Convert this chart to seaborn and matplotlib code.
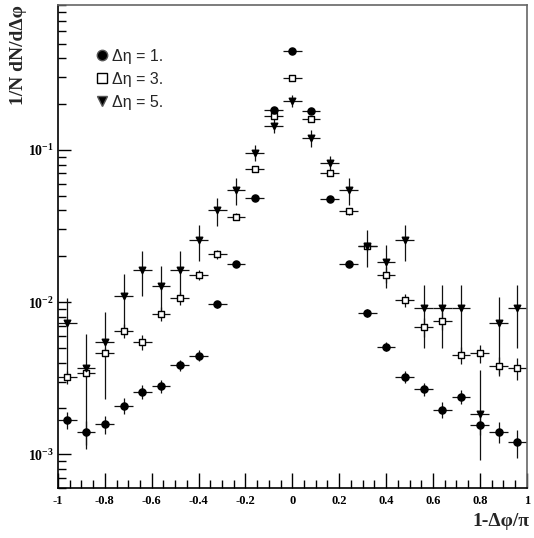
import matplotlib
matplotlib.use('Agg')
import matplotlib.pyplot as plt
from matplotlib.lines import Line2D
from matplotlib.ticker import FixedLocator, MultipleLocator, LogLocator, FuncFormatter, NullFormatter
import seaborn as sns
import pandas as pd
import math

# bin centres in 1-dphi/pi
x_bins = [-0.96, -0.88, -0.80, -0.72, -0.64, -0.56, -0.48, -0.40, -0.32, -0.24, -0.16, -0.08, 0.0,
          0.08, 0.16, 0.24, 0.32, 0.40, 0.48, 0.56, 0.64, 0.72, 0.80, 0.88, 0.96]
x_halfwidth = 0.04

# delta eta = 1 (filled circles)
eta1_y = [1.68e-3, 1.40e-3, 1.57e-3, 2.08e-3, 2.57e-3, 2.81e-3, 3.85e-3, 4.45e-3, 9.7e-3, 0.0179, 0.0482,
          0.182, 0.449, 0.181, 0.0477, 0.0179, 8.5e-3, 5.1e-3, 3.24e-3, 2.69e-3, 1.96e-3, 2.39e-3,
          1.55e-3, 1.41e-3, 1.20e-3]
eta1_err = [2.2e-4, 2.5e-4, 2.2e-4, 2.5e-4, 2.8e-4, 2.8e-4, 3.2e-4, 3.7e-4, 5e-4, 7e-4, 1.2e-3,
            3e-3, 5e-3, 3e-3, 1.2e-3, 7e-4, 5e-4, 3.5e-4, 3e-4, 2.7e-4, 2.3e-4, 2.6e-4,
            2.2e-4, 2.2e-4, 2.5e-4]

# delta eta = 3 (open squares)
eta3_y = [3.20e-3, 3.44e-3, 4.66e-3, 6.5e-3, 5.47e-3, 8.4e-3, 0.0106, 0.0151, 0.0207, 0.0365, 0.0753,
          0.166, 0.299, 0.159, 0.0703, 0.0394, 0.0233, 0.0151, 0.0103, 6.87e-3, 7.56e-3, 4.5e-3,
          4.6e-3, 3.83e-3, 3.68e-3]
eta3_err = [3e-4, 2.5e-4, 3e-4, 7e-4, 6.5e-4, 9e-4, 1e-3, 1.2e-3, 1.4e-3, 1.8e-3, 2.5e-3,
            5e-3, 7e-3, 5e-3, 2.5e-3, 1.8e-3, 1.6e-3, 1.8e-3, 1e-3, 1e-3, 1e-3, 6e-4,
            6e-4, 5.5e-4, 6e-4]

# delta eta = 5 (filled down triangles), asymmetric errors
eta5_y = [7.3e-3, 3.68e-3, 5.45e-3, 0.0109, 0.0163, 0.0128, 0.0163, 0.0256, 0.040, 0.0546, 0.096,
          0.144, 0.210, 0.119, 0.0817, 0.0546, 0.0234, 0.0183, 0.0254, 9.1e-3, 9.1e-3, 9.1e-3,
          1.84e-3, 7.26e-3, 9.1e-3]
eta5_lo = [4.1e-3, 2.6e-3, 3.15e-3, 4.4e-3, 5.4e-3, 4.5e-3, 5.7e-3, 7.1e-3, 8.3e-3, 0.011, 0.011,
           0.014, 0.018, 0.015, 0.0095, 0.011, 6.3e-3, 6.0e-3, 6.9e-3, 4.1e-3, 4.1e-3, 4.5e-3,
           0.93e-3, 3.9e-3, 4.1e-3]
eta5_hi = [3.4e-3, 2.5e-3, 3.1e-3, 4.4e-3, 5.4e-3, 4.5e-3, 5.3e-3, 6.6e-3, 8.2e-3, 0.011, 0.011,
           0.015, 0.019, 0.016, 0.010, 0.011, 6.4e-3, 5.5e-3, 6.7e-3, 3.9e-3, 3.9e-3, 3.9e-3,
           1.75e-3, 3.6e-3, 3.9e-3]

labels = ['Δη = 1.', 'Δη = 3.', 'Δη = 5.']
x_ticks = [-1, -0.8, -0.6, -0.4, -0.2, 0, 0.2, 0.4, 0.6, 0.8, 1]

sns.set_style('white')
plt.rcParams['font.family'] = ['Liberation Serif', 'DejaVu Serif']
plt.rcParams['mathtext.fontset'] = 'custom'
plt.rcParams['mathtext.rm'] = 'Liberation Serif'
plt.rcParams['mathtext.it'] = 'Liberation Serif:italic'
plt.rcParams['mathtext.bf'] = 'Liberation Serif:bold'

fig = plt.figure(figsize=(5.34, 5.38), dpi=100)
ax = fig.add_axes([0.1086, 0.0929, 0.8777, 0.8984])

frames = []
for name, ys, lo, hi in [('eta3', eta3_y, eta3_err, eta3_err),
                         ('eta1', eta1_y, eta1_err, eta1_err),
                         ('eta5', eta5_y, eta5_lo, eta5_hi)]:
    frames.append(pd.DataFrame({'x': x_bins, 'y': ys, 'lo': lo, 'hi': hi, 'series': name}))
df = pd.concat(frames, ignore_index=True)

styles = {'eta3': ('s', 'white', 24), 'eta1': ('o', 'black', 26), 'eta5': ('v', 'black', 22)}

# error bars under the markers
for name in ['eta3', 'eta1', 'eta5']:
    sub = df[df.series == name]
    ax.errorbar(sub.x, sub.y, xerr=x_halfwidth, yerr=[sub.lo, sub.hi], fmt='none',
                ecolor='#111111', elinewidth=0.9, capsize=0, zorder=2)

for name in ['eta3', 'eta1', 'eta5']:
    sub = df[df.series == name]
    m, face, s = styles[name]
    sns.scatterplot(data=sub, x='x', y='y', marker=m, s=s, color=face, edgecolor='black',
                    linewidth=1.0, ax=ax, zorder=3, legend=False)

ax.set_yscale('log')
ax.set_xlim(-1, 1)
ax.set_ylim(6.0e-4, 0.90)
ax.set_xlabel('')
ax.set_ylabel('')

ax.xaxis.set_major_locator(FixedLocator(x_ticks))
ax.xaxis.set_minor_locator(MultipleLocator(0.05))
ax.xaxis.set_major_formatter(FuncFormatter(lambda v, p: '0' if abs(v) < 1e-9 else f'{v:g}'))
ax.yaxis.set_major_locator(LogLocator(base=10))
ax.yaxis.set_minor_locator(LogLocator(base=10, subs=[2, 3, 4, 5, 6, 7, 8, 9]))
ax.yaxis.set_major_formatter(FuncFormatter(lambda v, p: r'$\mathbf{10^{%d}}$' % round(math.log10(v))))
ax.yaxis.set_minor_formatter(NullFormatter())

ax.tick_params(axis='both', which='both', direction='in', top=False, right=False,
               bottom=True, left=True, width=1.0, colors='black')
ax.tick_params(axis='x', which='major', length=11, pad=5, labelsize=9)
ax.tick_params(axis='x', which='minor', length=6)
ax.tick_params(axis='y', which='major', length=9, pad=3, labelsize=10)
ax.tick_params(axis='y', which='minor', length=6)
for t in ax.get_xticklabels():
    t.set_fontweight('bold')

for side in ['left', 'bottom']:
    ax.spines[side].set_color('black')
    ax.spines[side].set_linewidth(1.2)
for side in ['top', 'right']:
    ax.spines[side].set_color('#666666')
    ax.spines[side].set_linewidth(1.2)

handles = [Line2D([], [], marker='o', ls='none', mfc='black', mec='#555555', ms=7.5),
           Line2D([], [], marker='s', ls='none', mfc='white', mec='black', ms=7.5),
           Line2D([], [], marker='v', ls='none', mfc='black', mec='#555555', ms=7.5)]
ax.legend(handles, labels, loc='upper left', bbox_to_anchor=(0.066, 0.922), frameon=False,
          handlelength=0.8, handletextpad=0.25, labelspacing=0.5, borderaxespad=0,
          prop={'family': ['Liberation Sans', 'DejaVu Sans'], 'size': 11.5})

fig.text(0.992, 0.022, '1-Δφ/π', ha='right', va='baseline', fontsize=14, fontweight='bold')
fig.text(0.034, 0.99, '1/N dN/dΔφ', ha='center', va='top', rotation=90,
         fontsize=14, fontweight='bold')

fig.savefig('out.png', dpi=100)
